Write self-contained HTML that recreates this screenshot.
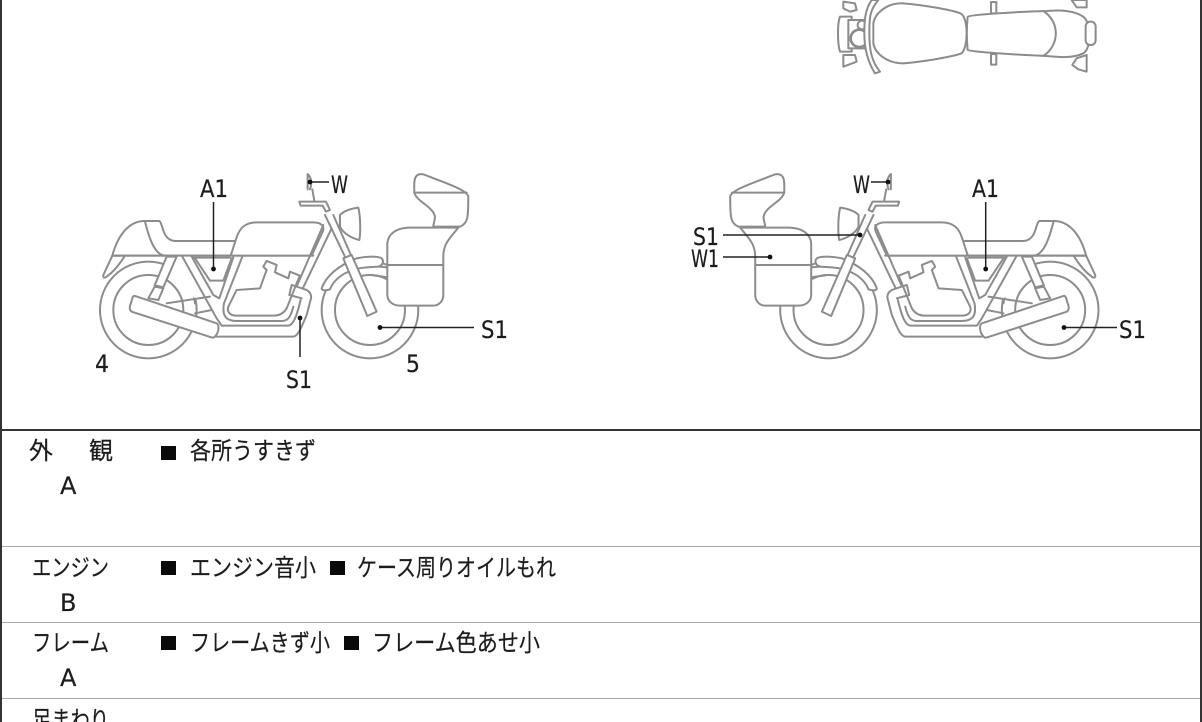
<!DOCTYPE html>
<html lang="ja"><head><meta charset="utf-8"><style>
html,body{margin:0;padding:0;background:#fff;width:1202px;height:722px;overflow:hidden}
svg{display:block;filter:blur(.35px)}
text{font-family:"Liberation Sans","Noto Sans CJK JP",sans-serif;fill:#1c1c1c;stroke:#1c1c1c;stroke-width:.2}
.t{font-size:24px}
.l text,.lat{font-family:"DejaVu Sans",sans-serif;font-size:24px}
.b path,.b circle,.b rect{stroke:#8c8c8c;stroke-width:6;fill:#fff;stroke-linejoin:round;stroke-linecap:round}
.b .n{fill:none}
.ld{stroke:#222;stroke-width:1.5;fill:none}
</style></head><body>
<svg width="1202" height="722" viewBox="0 0 1202 722" xmlns="http://www.w3.org/2000/svg">
<defs>
<g id="bike" class="b">
<circle cx="205" cy="450" r="145"/><circle cx="205" cy="450" r="105"/>
<path class="n" d="M300,345A120,120 0 0 1 345,430"/>
<circle cx="870" cy="450" r="145"/><circle cx="870" cy="450" r="105"/>
<path d="M97,287L70,345C68,355 75,356 85,346C100,335 115,318 135,287Z"/>
<path d="M97,287C115,220 150,185 190,183L238,183C250,190 245,240 285,243L470,243L452,287Z"/>
<path class="n" d="M195,185C205,225 222,285 255,287"/>
<path d="M260,288L700,288L655,400L640,490L420,490L390,450L300,380Z" style="stroke:none"/>
<path class="n" d="M97,287L700,287"/>
<path d="M452,287L470,232C480,200 500,187 530,187L700,187C725,187 735,200 728,215L695,287Z"/>
<!-- shock -->
<path d="M260,290L290,290L250,382L224,376Z"/>
<path d="M224,380L250,385L235,420L205,415Z"/>
<!-- frame -->
<path class="n" d="M307,290L410,475L425,497L625,497C640,495 650,470 662,420"/>
<path class="n" d="M335,290L400,405L418,415L460,292"/>
<path class="n" d="M345,295L390,362L430,362L455,295M338,293L450,293"/>
<path class="n" d="M260,430L390,410M345,460L395,450"/>
<path class="n" d="M487,290L432,430C425,470 440,483 470,483L605,483C625,483 632,470 640,440"/>
<path class="n" d="M445,440L470,390L540,385L560,330L550,320L560,303L590,315L585,337L625,355L630,335L660,347L650,370L620,445C610,462 595,467 580,467L470,467C450,467 440,455 445,440Z"/>
<!-- downtube -->
<path class="n" d="M755,205L670,382M730,195L652,375"/>
<path class="n" d="M735,165L795,290M760,165L815,290"/>
<!-- exhaust -->
<path class="n" d="M410,530L640,530C655,528 665,500 680,465L693,415C695,405 690,395 680,390L635,375L628,405L665,415"/>
<path d="M165,408L410,490C418,495 416,510 412,520L405,530C402,534 398,534 390,531L155,455C148,450 148,440 152,432L158,412C160,408 162,407 165,408Z"/>
<!-- bars -->
<path d="M658,125L738,125L750,150L738,155L728,137L662,137Z"/>
<path class="n" d="M683,42C697,55 695,75 690,88M683,42L683,88M697,88L703,122"/>
<path d="M780,165C795,150 820,145 835,143C842,170 842,220 838,240C815,235 790,220 780,200Z"/>
<path d="M725,385C740,345 780,315 830,295C860,288 895,288 905,295C915,305 905,318 895,320L860,322C810,325 765,350 750,388C740,392 725,392 725,385Z"/>
<path d="M790,295L815,285L890,455L862,468Z"/>
<path class="n" d="M895,320L925,322M880,346L925,352"/>
<path d="M1030,43C1000,38 1002,65 1003,98C1010,125 1060,140 1065,170C1065,185 1060,190 1060,200L1140,200C1165,190 1165,170 1165,110C1162,90 1100,70 1030,43Z"/>
<path class="n" d="M1003,98L1160,98"/>
<path d="M985,203L1135,203C1110,235 1090,250 1090,290L1090,405C1090,425 1075,437 1060,437L960,437C935,437 922,420 922,405L922,250C925,220 950,205 985,203Z"/>
<path class="n" d="M922,315L1090,315"/>
</g>
</defs>

<rect x="0" y="0" width="1202" height="722" fill="#fff"/>
<rect x="0" y="0" width="2" height="722" fill="#333"/>
<rect x="1200" y="0" width="2" height="722" fill="#333"/>
<rect x="0" y="429" width="1202" height="2" fill="#333"/>
<rect x="2" y="546" width="1198" height="1" fill="#aaa"/>
<rect x="2" y="622" width="1198" height="1" fill="#aaa"/>
<rect x="2" y="698" width="1198" height="1" fill="#aaa"/>

<!-- top view -->
<g class="b" transform="translate(820,0) scale(.3333)">
<path d="M70,5L105,10L110,30L90,35L70,25Z"/><path d="M70,165L105,165L110,185L70,200Z"/>
<path d="M60,50L95,50L95,155L60,155C52,130 52,70 60,50Z"/>
<path d="M85,60L135,60L135,145L85,145Z"/>
<circle cx="118" cy="115" r="26" style="stroke-width:8"/><circle cx="126" cy="75" r="13"/>
<path d="M175,0C150,30 148,50 148,100C148,150 155,185 180,215L165,220C140,180 133,140 133,100C133,60 135,30 155,0Z"/>
<path d="M160,70C165,40 200,8 250,10C310,15 400,30 425,42C445,60 445,140 425,160C400,170 310,185 250,190C200,190 165,160 160,130Z"/>
<path d="M443,50C445,44 600,35 680,33C720,30 760,30 790,50C815,70 815,145 790,160C760,175 720,172 680,168C600,165 445,155 443,150C440,120 440,80 443,50Z"/>
<path class="n" d="M670,33C720,65 720,135 670,168"/>
<rect x="513" y="6" width="16" height="34"/><rect x="513" y="162" width="16" height="32"/>
<rect x="797" y="65" width="30" height="70" rx="14"/>
<path d="M755,0L800,0L800,22L770,22Z"/><path d="M770,175L800,165L800,215L775,208L757,195Z"/>
</g>

<g transform="translate(80,160) scale(.3333)"><use href="#bike"/></g>
<g transform="translate(1118.5,160) scale(-.3333,.3333)"><use href="#bike"/></g>

<path class="ld" d="M213.500,202V269M310,182H329M300,318V357M380,327.500H474"/>
<path class="ld" d="M723,235H860M723,257H770M871,182H888M985.700,202V269M1064,327.500H1117"/>
<g fill="#111">
<circle cx="213.500" cy="269" r="2.400"/><circle cx="310" cy="182" r="2.400"/><circle cx="300" cy="318" r="2.400"/><circle cx="380" cy="327.500" r="2.400"/>
<circle cx="860" cy="235" r="2.400"/><circle cx="770" cy="257" r="2.400"/><circle cx="888" cy="182" r="2.400"/><circle cx="985.700" cy="269" r="2.400"/><circle cx="1064" cy="327.500" r="2.400"/>
</g>

<g class="l">
<text x="200" y="197" textLength="28" lengthAdjust="spacingAndGlyphs">A1</text>
<text x="331" y="193" textLength="17" lengthAdjust="spacingAndGlyphs">W</text>
<text x="481" y="338" textLength="27" lengthAdjust="spacingAndGlyphs">S1</text>
<text x="286" y="388" textLength="26" lengthAdjust="spacingAndGlyphs">S1</text>
<text x="95" y="372" textLength="14" lengthAdjust="spacingAndGlyphs">4</text>
<text x="406" y="372" textLength="14" lengthAdjust="spacingAndGlyphs">5</text>
<text x="853" y="193" textLength="17" lengthAdjust="spacingAndGlyphs">W</text>
<text x="972" y="197" textLength="27" lengthAdjust="spacingAndGlyphs">A1</text>
<text x="693" y="245" textLength="26" lengthAdjust="spacingAndGlyphs">S1</text>
<text x="691" y="267" textLength="28" lengthAdjust="spacingAndGlyphs">W1</text>
<text x="1119" y="338" textLength="27" lengthAdjust="spacingAndGlyphs">S1</text>
</g>

<g class="t">
<text x="29" y="459">外</text><text x="89" y="459">観</text>
<text class="lat" x="60" y="494">A</text>
<text x="32" y="576" textLength="77" lengthAdjust="spacingAndGlyphs">エンジン</text>
<text class="lat" x="60" y="611">B</text>
<text x="32" y="651" textLength="77" lengthAdjust="spacingAndGlyphs">フレーム</text>
<text class="lat" x="60" y="686">A</text>
<text x="32" y="728" textLength="77" lengthAdjust="spacingAndGlyphs">足まわり</text>
<text x="190" y="459" textLength="126" lengthAdjust="spacingAndGlyphs">各所うすきず</text>
<text x="190" y="576" textLength="126" lengthAdjust="spacingAndGlyphs">エンジン音小</text>
<text x="357" y="576" textLength="199" lengthAdjust="spacingAndGlyphs">ケース周りオイルもれ</text>
<text x="190" y="651" textLength="140" lengthAdjust="spacingAndGlyphs">フレームきず小</text>
<text x="372" y="651" textLength="168" lengthAdjust="spacingAndGlyphs">フレーム色あせ小</text>
</g>
<g fill="#0a0a0a">
<rect x="161" y="446" width="15" height="14"/>
<rect x="161" y="561" width="15" height="14"/>
<rect x="330" y="561" width="15" height="14"/>
<rect x="161" y="636" width="15" height="14"/>
<rect x="344" y="636" width="15" height="14"/>
</g>
</svg>
</body></html>
